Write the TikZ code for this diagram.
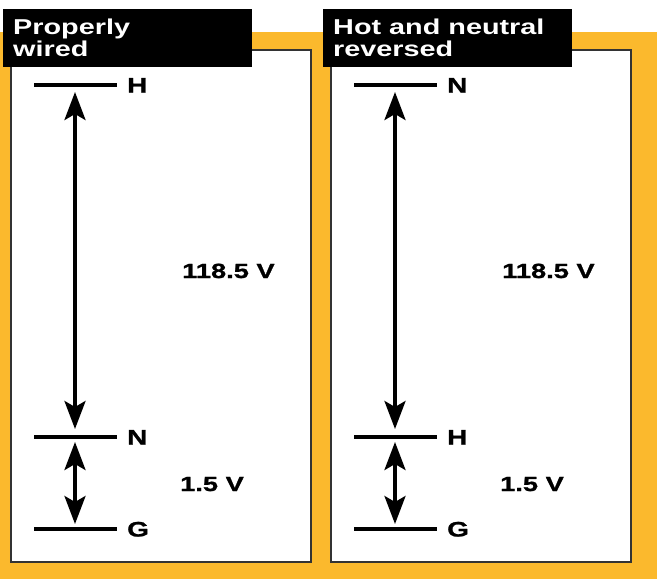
\documentclass[tikz,border=0pt]{standalone}
\usepackage{fontspec}
\usetikzlibrary{arrows.meta}
\newfontfamily\widefont[FakeStretch=1.34]{Liberation Sans}
\newfontfamily\widebold[FakeStretch=1.33,FakeBold=1.2]{Liberation Sans Bold}
\definecolor{bgorange}{RGB}{251,185,45}
\tikzset{
  panel/.style={draw=black!80, line width=1.2pt, fill=white},
  titlebox/.style={fill=black},
  titletext/.style={text=white, font=\widefont\fontsize{21.5}{23}\selectfont\bfseries, inner sep=0pt, anchor=base west, align=left},
  level/.style={line width=4pt},
  lvlabel/.style={font=\widebold\fontsize{21}{22}\selectfont, inner sep=0pt, anchor=base west},
  vlabel/.style={font=\widebold\fontsize{20.5}{22}\selectfont, inner sep=0pt, anchor=base west},
  dimarrow/.style={line width=3.6pt, {Stealth[length=28pt,width=21pt,inset=6pt]}-{Stealth[length=28pt,width=21pt,inset=6pt]}}
}
\begin{document}
\begin{tikzpicture}[x=1pt,y=-1pt]
\useasboundingbox (0,0) rectangle (657,579);
\fill[bgorange] (0,32) rectangle (657,579);
% panels
\foreach \dx/\nm/\ta/\tb/\la/\lb in {0/L/{Properly}/{wired}/H/N, 320/R/{Hot and neutral}/{reversed}/N/H}{
  \begin{scope}[xshift=\dx]
    \draw[panel] (11,50) rectangle (311,562);
    \fill[titlebox] (3,9) rectangle (252,67);
    \node[titletext] (title\nm) at (13,56) {\ta\\[-1pt]\tb};
    \draw[level] (34,85) -- (117,85);
    \draw[level] (34,437) -- (117,437);
    \draw[level] (34,529) -- (117,529);
    \node[lvlabel] (top\nm) at (127,92.5) {\la};
    \node[lvlabel] (mid\nm) at (127,444.5) {\lb};
    \node[lvlabel] (bot\nm) at (127,536.5) {G};
    \coordinate (a\nm) at (75,92);
    \coordinate (b\nm) at (75,429);
    \coordinate (c\nm) at (75,442);
    \coordinate (d\nm) at (75,524);
    \draw[dimarrow] (a\nm) -- (b\nm);
    \draw[dimarrow] (c\nm) -- (d\nm);
    \node[vlabel] (big\nm) at (182,278) {118.5 V};
    \node[vlabel] (small\nm) at (180,491) {1.5 V};
  \end{scope}
}
\end{tikzpicture}
\end{document}
